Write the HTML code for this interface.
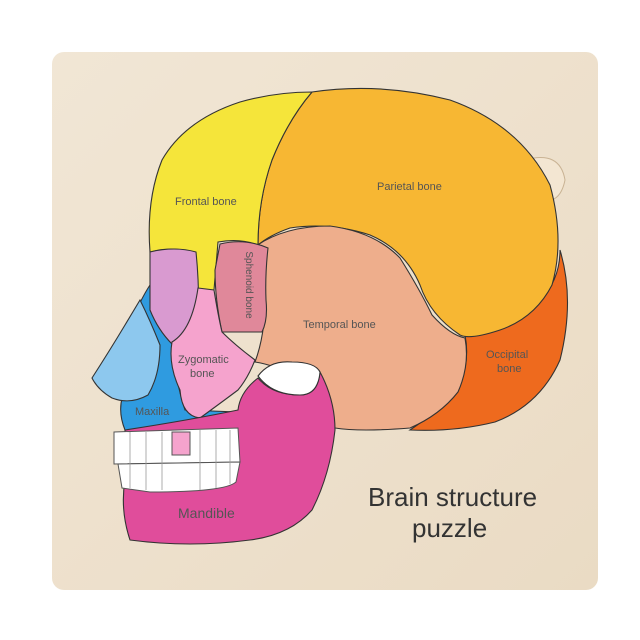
<!DOCTYPE html>
<html><head><meta charset="utf-8"><style>
html,body{margin:0;padding:0;background:#fff;width:640px;height:640px;overflow:hidden}
svg{display:block}
text{font-family:"Liberation Sans",sans-serif}
</style></head><body>
<svg width="640" height="640" viewBox="0 0 640 640">
<defs>
<linearGradient id="wood" x1="0" y1="0" x2="1" y2="1">
<stop offset="0" stop-color="#f1e6d5"/><stop offset="1" stop-color="#eadbc4"/>
</linearGradient>
</defs>
<rect x="52" y="52" width="546" height="538" rx="12" fill="url(#wood)"/>
<path d="M525,160 Q560,150 565,180 Q560,205 540,200 Z" fill="#f3e6d2" stroke="#c9b394" stroke-width="1"/>
<g stroke="#333" stroke-width="1.1">
<!-- occipital -->
<path d="M540,300 Q560,280 560,250 Q575,300 560,360 Q540,405 495,422 Q455,432 410,430 Q440,410 460,385 Q470,360 465,335 Q500,325 540,300 Z" fill="#ee6a1e"/>
<!-- parietal -->
<path d="M312,92 Q380,82 450,100 Q520,125 550,185 Q565,240 552,285 Q535,318 500,330 Q470,340 460,335 Q430,315 420,285 Q405,250 370,235 Q330,222 290,228 Q270,235 258,245 Q258,200 272,160 Q288,120 312,92 Z" fill="#f7b733"/>
<!-- frontal -->
<path d="M312,92 Q288,120 272,160 Q258,200 258,245 Q240,238 218,242 L214,290 L198,290 L194,252 Q170,246 150,252 Q146,200 162,160 Q185,120 240,102 Q275,92 312,92 Z" fill="#f5e53a"/>
<!-- temporal -->
<path d="M256,246 Q285,226 330,226 Q375,232 400,258 Q420,290 432,315 Q450,335 465,338 Q470,365 458,392 Q440,415 410,428 Q360,432 335,428 Q325,395 300,378 Q275,365 255,362 Q265,335 265,300 Q262,275 256,246 Z" fill="#eeae8c"/>
<!-- sphenoid -->
<path d="M220,244 Q245,238 268,248 Q265,275 266,300 Q268,320 262,332 L222,332 Q215,300 215,270 Z" fill="#e0889a"/>
<!-- maxilla -->
<path d="M150,285 Q160,300 172,340 Q175,380 185,410 L238,412 L236,430 L125,430 Q115,405 128,385 Q118,360 128,330 Q140,300 150,285 Z" fill="#2f9be0"/>
<!-- ethmoid -->
<path d="M150,252 Q175,246 196,252 Q200,290 198,340 L172,344 Q158,330 150,310 Z" fill="#d99ad0"/>
<!-- nasal -->
<path d="M140,300 Q150,320 160,345 Q160,375 148,395 Q130,405 112,398 Q98,390 92,378 Q110,350 125,325 Z" fill="#8dc8ee"/>
<!-- zygomatic -->
<path d="M198,288 L214,290 Q218,315 222,332 Q235,345 255,360 Q248,378 238,390 Q222,402 200,418 Q182,416 180,390 Q168,365 172,342 Q192,330 198,288 Z" fill="#f5a3cd"/>
<!-- mandible -->
<path d="M125,430 Q190,420 238,410 Q240,392 258,378 Q272,395 300,395 Q318,395 320,372 Q335,400 335,430 Q330,475 312,510 Q290,535 250,540 Q190,548 130,540 Q120,510 125,480 Z" fill="#e04d9b"/>
<path d="M258,376 Q270,360 292,362 Q315,362 320,372 Q318,395 300,395 Q272,395 258,376 Z" fill="#fff"/>
</g>
<g fill="#fff" stroke="#555" stroke-width="1">
<path d="M114,432 L238,428 L240,462 L114,464 Z"/>
<path d="M118,464 L240,462 L236,482 Q225,492 150,492 L122,488 Z"/>
<path d="M172,432 L190,432 L190,455 L172,455 Z" fill="#f5a3cd"/>
</g>
<g stroke="#999" stroke-width="0.8">
<line x1="130" y1="432" x2="130" y2="488"/><line x1="146" y1="432" x2="146" y2="490"/>
<line x1="162" y1="432" x2="162" y2="490"/><line x1="200" y1="430" x2="200" y2="490"/>
<line x1="216" y1="430" x2="216" y2="488"/><line x1="230" y1="430" x2="230" y2="484"/>
</g>
<g fill="#555" font-size="11">
<text x="175" y="205">Frontal bone</text>
<text x="377" y="190">Parietal bone</text>
<text x="303" y="328">Temporal bone</text>
<text x="486" y="358">Occipital</text>
<text x="497" y="372">bone</text>
<text x="178" y="363">Zygomatic</text>
<text x="190" y="377">bone</text>
<text x="135" y="415">Maxilla</text>
<text x="246" y="305" transform="rotate(90 246 305)" font-size="10" text-anchor="middle" dx="-20">Sphenoid bone</text>
<text x="178" y="518" font-size="14">Mandible</text>
</g>
<text x="368" y="506" font-size="26" fill="#333">Brain structure</text>
<text x="412" y="537" font-size="26" fill="#333">puzzle</text>
</svg>
</body></html>
